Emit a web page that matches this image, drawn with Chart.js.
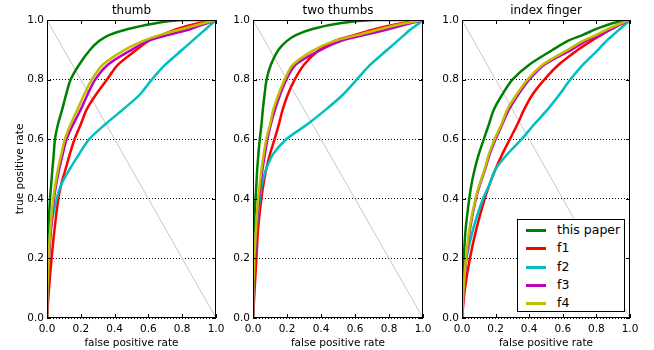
<!DOCTYPE html>
<html>
<head>
<meta charset="utf-8">
<script src="https://cdn.jsdelivr.net/npm/chart.js@4.4.0/dist/chart.umd.min.js"></script>
<style>
    body { margin: 0; background: #fff; font-family: "DejaVu Sans", sans-serif; }
    #wrap { position: relative; width: 654px; height: 350px; overflow: hidden; }
    .panel { position: absolute; top: 0; height: 350px; }
    #legend {
        position: absolute; left: 517px; top: 219px; width: 106px; height: 91px;
        border: 1px solid #000; background: #fff; font-size: 12.5px; color: #000;
    }
    #legend .row { position: absolute; left: 0; height: 18px; line-height: 18px; }
    #legend .swatch { position: absolute; left: 8px; top: 8px; width: 20px; height: 3px; }
    #legend .label { position: absolute; left: 39px; top: 0; white-space: nowrap; }
</style>
</head>
<body>
<div id="wrap">
    <div class="panel" style="left:0;width:236px"><canvas id="c0"></canvas></div>
    <div class="panel" style="left:218px;width:219px"><canvas id="c1"></canvas></div>
    <div class="panel" style="left:428px;width:226px"><canvas id="c2"></canvas></div>
    <div id="legend"></div>
</div>
<script>
const tprLevels = [0, 0.1, 0.2, 0.3, 0.4, 0.45, 0.5, 0.55, 0.6, 0.65, 0.7, 0.75, 0.8, 0.85, 0.9, 0.93, 0.95, 0.97, 0.99, 1.0, 1.0];

const seriesNames = ["this paper", "f1", "f2", "f3", "f4"];
const seriesColors = ["#008000", "#ff0000", "#00bfbf", "#bf00bf", "#bfbf00"];
const panelTitles = ["thumb", "two thumbs", "index finger"];
const tickValues = [0, 0.2, 0.4, 0.6, 0.8, 1.0];

// thumb
const thumbPaper = [0, 0, 0.003, 0.008, 0.018, 0.025, 0.032, 0.04, 0.047, 0.065, 0.09, 0.113, 0.14, 0.19, 0.255, 0.31, 0.37, 0.48, 0.65, 0.8, 1.0];
const thumbF1 = [0, 0.012, 0.027, 0.045, 0.067, 0.085, 0.11, 0.135, 0.163, 0.2, 0.235, 0.29, 0.355, 0.42, 0.53, 0.6, 0.68, 0.77, 0.9, 1.0, 1.0];
const thumbF2 = [0, 0.002, 0.008, 0.022, 0.057, 0.086, 0.135, 0.19, 0.25, 0.345, 0.45, 0.55, 0.62, 0.7, 0.8, 0.86, 0.9, 0.94, 0.98, 1.0, 1.0];
const thumbF3 = [0, 0.004, 0.012, 0.024, 0.041, 0.055, 0.072, 0.093, 0.116, 0.155, 0.2, 0.24, 0.285, 0.36, 0.5, 0.6, 0.72, 0.85, 0.95, 1.0, 1.0];
const thumbF4 = [0, 0.003, 0.01, 0.02, 0.037, 0.05, 0.065, 0.085, 0.106, 0.14, 0.18, 0.22, 0.265, 0.33, 0.46, 0.57, 0.67, 0.8, 0.93, 1.0, 1.0];

// two thumbs
const twoPaper = [0, 0, 0.002, 0.005, 0.015, 0.02, 0.025, 0.032, 0.04, 0.05, 0.058, 0.068, 0.08, 0.105, 0.15, 0.2, 0.255, 0.35, 0.52, 0.72, 1.0];
const twoF1 = [0, 0.01, 0.02, 0.03, 0.049, 0.062, 0.078, 0.1, 0.127, 0.152, 0.175, 0.205, 0.245, 0.3, 0.39, 0.48, 0.6, 0.72, 0.88, 1.0, 1.0];
const twoF2 = [0, 0.003, 0.01, 0.02, 0.04, 0.053, 0.078, 0.118, 0.196, 0.32, 0.43, 0.53, 0.61, 0.69, 0.79, 0.85, 0.89, 0.93, 0.98, 1.0, 1.0];
const twoF3 = [0, 0.003, 0.01, 0.02, 0.035, 0.045, 0.056, 0.07, 0.085, 0.105, 0.13, 0.16, 0.196, 0.25, 0.4, 0.52, 0.66, 0.8, 0.93, 1.0, 1.0];
const twoF4 = [0, 0.002, 0.008, 0.018, 0.03, 0.04, 0.05, 0.063, 0.078, 0.1, 0.12, 0.15, 0.186, 0.235, 0.36, 0.48, 0.62, 0.75, 0.9, 1.0, 1.0];

// index finger
const indexPaper = [0, 0.002, 0.01, 0.022, 0.043, 0.057, 0.076, 0.1, 0.13, 0.16, 0.19, 0.24, 0.3, 0.4, 0.54, 0.63, 0.72, 0.8, 0.9, 1.0, 1.0];
const indexF1 = [0, 0.018, 0.047, 0.086, 0.135, 0.165, 0.2, 0.24, 0.285, 0.33, 0.37, 0.42, 0.49, 0.575, 0.69, 0.77, 0.83, 0.89, 0.96, 1.0, 1.0];
const indexF2 = [0, 0.008, 0.027, 0.067, 0.125, 0.165, 0.2, 0.27, 0.355, 0.43, 0.51, 0.58, 0.645, 0.72, 0.81, 0.86, 0.9, 0.94, 0.98, 1.0, 1.0];
const indexF3 = [0, 0.011, 0.026, 0.048, 0.083, 0.108, 0.138, 0.165, 0.2, 0.24, 0.28, 0.335, 0.4, 0.49, 0.65, 0.74, 0.82, 0.89, 0.96, 1.0, 1.0];
const indexF4 = [0, 0.01, 0.024, 0.045, 0.08, 0.105, 0.135, 0.16, 0.194, 0.235, 0.27, 0.325, 0.39, 0.48, 0.63, 0.72, 0.8, 0.87, 0.95, 1.0, 1.0];

const chanceX = [0, 1];
const chanceY = [1, 0];

const panelCurves = [
    [thumbPaper, thumbF1, thumbF2, thumbF3, thumbF4],
    [twoPaper, twoF1, twoF2, twoF3, twoF4],
    [indexPaper, indexF1, indexF2, indexF3, indexF4]
];

// y axis width and right padding for each panel, so the plot boxes line up with the picture
const yAxisWidth = [47, 35, 34];
const rightPad = [20, 14, 24];

// box round the plot plus inward ticks on all four sides, like matplotlib
const frameTicks = {
    id: "frameTicks",
    afterDatasetsDraw(chart) {
        const { ctx, chartArea: a, scales: { x, y } } = chart;
        ctx.save();
        ctx.strokeStyle = "#000";
        ctx.lineWidth = 1;
        ctx.strokeRect(a.left + 0.5, a.top + 0.5, a.right - a.left - 1, a.bottom - a.top - 1);
        ctx.beginPath();
        tickValues.forEach(v => {
            const px = Math.round(x.getPixelForValue(v)) + 0.5;
            ctx.moveTo(px, a.bottom); ctx.lineTo(px, a.bottom - 4);
            ctx.moveTo(px, a.top); ctx.lineTo(px, a.top + 4);
            const py = Math.round(y.getPixelForValue(v)) + 0.5;
            ctx.moveTo(a.left, py); ctx.lineTo(a.left + 4, py);
            ctx.moveTo(a.right, py); ctx.lineTo(a.right - 4, py);
        });
        ctx.stroke();
        ctx.restore();
    }
};

function makePanel(i) {
    const datasets = panelCurves[i].map((fpr, k) => ({
        label: seriesNames[k],
        data: fpr.map((v, j) => ({ x: v, y: tprLevels[j] })),
        borderColor: seriesColors[k],
        borderWidth: 2.5,
        order: 5 - k
    }));
    datasets.push({
        label: "chance",
        data: chanceX.map((v, j) => ({ x: v, y: chanceY[j] })),
        borderColor: "#c8c8c8",
        borderWidth: 1,
        tension: 0,
        order: 10
    });

    new Chart(document.getElementById("c" + i), {
        type: "scatter",
        data: { datasets },
        options: {
            responsive: true,
            maintainAspectRatio: false,
            animation: false,
            showLine: true,
            elements: { point: { radius: 0 }, line: { tension: 0.3, capBezierPoints: true } },
            layout: { padding: { top: 0, right: rightPad[i], left: 0, bottom: 0 } },
            plugins: {
                legend: { display: false },
                tooltip: { enabled: false },
                title: {
                    display: true,
                    text: panelTitles[i],
                    fullSize: false,
                    color: "#000",
                    font: { family: "DejaVu Sans", size: 12, weight: "normal" },
                    padding: { top: 4, bottom: 1.6 }
                }
            },
            scales: {
                x: {
                    type: "linear",
                    min: 0, max: 1,
                    afterBuildTicks: s => { s.ticks = tickValues.map(v => ({ value: v })); },
                    afterFit: s => { s.height = 32; s.paddingLeft = 0; s.paddingRight = 0; },
                    grid: { display: false },
                    border: { display: false },
                    ticks: {
                        color: "#000", padding: -3, maxRotation: 0,
                        font: { family: "DejaVu Sans", size: 10.5 },
                        callback: v => v.toFixed(1)
                    },
                    title: {
                        display: true, text: "false positive rate", color: "#000",
                        font: { family: "DejaVu Sans", size: 10.5 }, padding: { top: 3, bottom: 0 }
                    }
                },
                y: {
                    type: "linear",
                    min: 0, max: 1,
                    afterBuildTicks: s => { s.ticks = tickValues.map(v => ({ value: v })); },
                    afterFit: s => { s.width = yAxisWidth[i]; s.paddingTop = 0; s.paddingBottom = 0; },
                    grid: { color: "#000", lineWidth: 1, drawTicks: false },
                    border: { display: false, dash: [1, 2] },
                    ticks: {
                        color: "#000", padding: 3,
                        font: { family: "DejaVu Sans", size: 10.5 },
                        callback: v => v.toFixed(1)
                    },
                    title: {
                        display: i === 0, text: "true positive rate", color: "#000",
                        font: { family: "DejaVu Sans", size: 10.5 }, padding: { top: 14, bottom: 0 }
                    }
                }
            }
        },
        plugins: [frameTicks]
    });
}

[0, 1, 2].forEach(makePanel);

// legend box inside the last panel
const legend = document.getElementById("legend");
seriesNames.forEach((name, k) => {
    const row = document.createElement("div");
    row.className = "row";
    row.style.top = (1 + k * 18.3) + "px";
    row.style.width = "106px";
    row.innerHTML = '<span class="swatch" style="background:' + seriesColors[k] + '"></span>' +
        '<span class="label">' + name + '</span>';
    legend.appendChild(row);
});
</script>
</body>
</html>
